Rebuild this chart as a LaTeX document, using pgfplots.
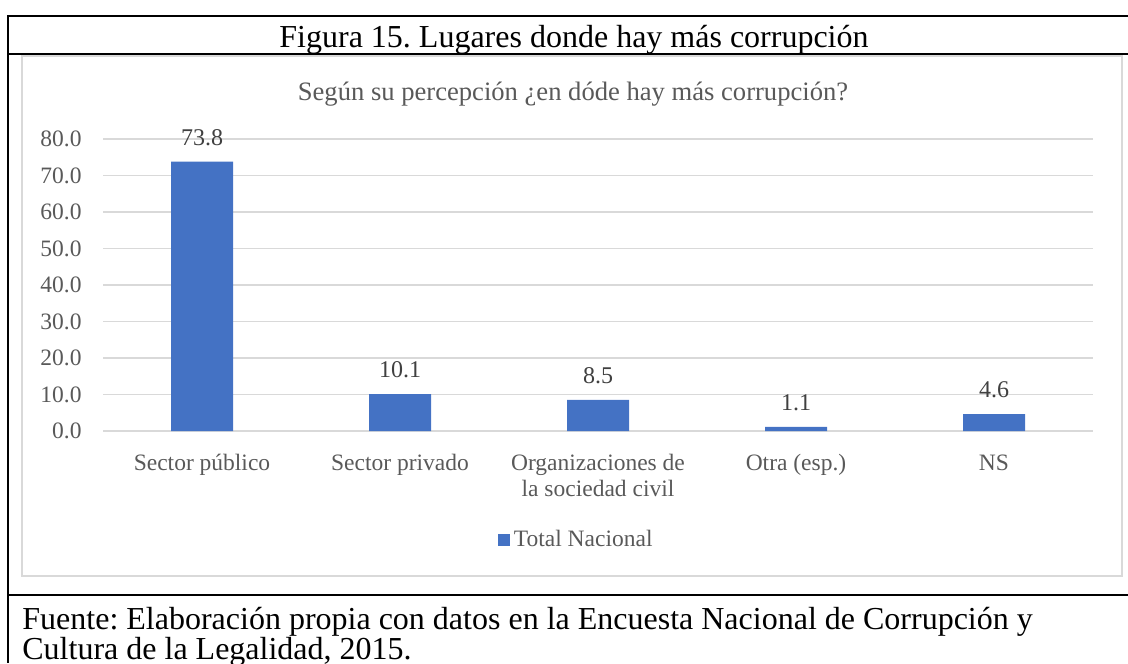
\documentclass[border=0pt]{standalone}
\usepackage{pgfplots}
\pgfplotsset{compat=1.18}
\usepackage{fontspec}
\setmainfont{Liberation Serif}
\frenchspacing
\definecolor{barblue}{HTML}{4472C4}
\definecolor{txtgray}{HTML}{595959}
\definecolor{lblgray}{HTML}{404040}
\definecolor{gridgray}{HTML}{D9D9D9}
\begin{document}
\begin{tikzpicture}
\begin{scope}[x=0.5pt,y=-0.5pt]
\useasboundingbox (0,0) rectangle (1128,663);
\draw[gridgray, line width=0.6pt] (22,56) rectangle (1122,576);
\draw[black, line width=1pt] (1128,16) -- (8,16) -- (8,663);
\draw[black, line width=1pt] (8,54) -- (1128,54);
\draw[black, line width=1pt] (8,595) -- (1128,595);
\node[anchor=base, inner sep=0pt, font=\fontsize{16}{19}\selectfont] at (574,48) {Figura 15. Lugares donde hay más corrupción};
\node[anchor=base, inner sep=0pt, text=txtgray, font=\fontsize{13.3}{16}\selectfont] at (573,101) {Según su percepción ¿en dóde hay más corrupción?};
\node[anchor=base west, inner sep=0pt, font=\fontsize{16}{19}\selectfont] at (22,629) {Fuente: Elaboración propia con datos en la Encuesta Nacional de Corrupción y};
\node[anchor=base west, inner sep=0pt, font=\fontsize{16}{19}\selectfont] at (22,659) {Cultura de la Legalidad, 2015.};
\end{scope}
\begin{axis}[
  at={(51.5pt,-215.5pt)}, anchor=south west,
  scale only axis, width=495pt, height=146pt,
  xmin=-0.5, xmax=4.5, ymin=0, ymax=80,
  ytick={0,10,...,80},
  xtick={0,1,2,3,4},
  xticklabels={{\strut Sector público},{\strut Sector privado},{\strut Organizaciones de\\la sociedad civil},{\strut Otra (esp.)},{\strut NS}},
  axis line style={draw=none},
  tick style={draw=none},
  ymajorgrids,
  grid style={gridgray, line width=0.6pt},
  yticklabel style={anchor=east, inner sep=0pt, xshift=-10.5pt, text=txtgray,
    font=\fontsize{11.75}{13}\selectfont,
    /pgf/number format/fixed, /pgf/number format/fixed zerofill,
    /pgf/number format/precision=1, /pgf/number format/assume math mode=true},
  xticklabel style={anchor=north, inner sep=0pt, yshift=-6pt, align=center, text=txtgray,
    font=\fontsize{11.75}{13}\selectfont},
  ybar, bar width=31pt,
  nodes near coords,
  every node near coord/.append style={anchor=south, inner sep=0pt, yshift=7.9pt, text=lblgray,
    font=\fontsize{12}{14}\selectfont,
    /pgf/number format/fixed, /pgf/number format/fixed zerofill,
    /pgf/number format/precision=1, /pgf/number format/assume math mode=true},
  clip=false,
  legend style={at={(0.479,-0.372)}, anchor=center, draw=none, fill=none,
    font=\fontsize{11.75}{13}\selectfont, text=txtgray, inner sep=0pt},
  legend image code/.code={\fill[barblue] (0pt,-3pt) rectangle (6pt,3pt);},
]
\addplot[fill=barblue, draw=none] coordinates {(0,73.8) (1,10.1) (2,8.5) (3,1.1) (4,4.6)};
\addlegendentry{Total Nacional}
\end{axis}
\end{tikzpicture}
\end{document}
